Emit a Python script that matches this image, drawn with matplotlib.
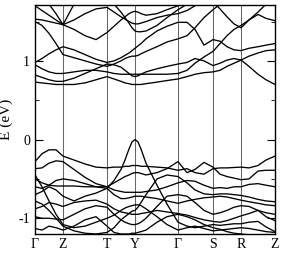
import numpy as np
import matplotlib
matplotlib.use("Agg")
import matplotlib.pyplot as plt

# k-path (arbitrary distance units) and labels
kpath_pos = [0, 28, 72, 100, 143, 178, 206, 240]
kpath_labels = ["Γ", "Z", "T", "Y", "Γ", "S", "R", "Z"]

# sampling positions along the path
k = [0, 7, 14, 21, 28,
     39, 50, 61, 72,
     79, 86, 90, 94, 97, 100,
     103, 106, 111, 122, 132, 143,
     152, 160, 169, 178,
     185, 192, 199, 206,
     214, 223, 231, 240]

# valence bands (eV)
v1 = [-0.28, -0.18, -0.13, -0.13, -0.21, -0.26, -0.31, -0.35, -0.36, -0.35, -0.35, -0.34, -0.34, -0.33, -0.33, -0.33, -0.34, -0.34, -0.35, -0.36, -0.39, -0.37, -0.42, -0.44, -0.37, -0.36, -0.36, -0.355, -0.35, -0.36, -0.33, -0.26, -0.21]
v2 = [-0.60, -0.62, -0.58, -0.52, -0.50, -0.52, -0.56, -0.60, -0.62, -0.52, -0.38, -0.26, -0.12, -0.03, 0.00, -0.03, -0.12, -0.30, -0.58, -0.82, -1.05, -1.10, -1.12, -1.10, -1.08, -1.09, -1.08, -1.07, -1.07, -1.05, -1.04, -1.11, -1.17]
v3 = [-0.37, -0.36, -0.30, -0.27, -0.28, -0.38, -0.48, -0.56, -0.60, -0.55, -0.50, -0.47, -0.45, -0.43, -0.42, -0.42, -0.43, -0.45, -0.42, -0.37, -0.28, -0.42, -0.38, -0.29, -0.35, -0.44, -0.47, -0.49, -0.51, -0.50, -0.40, -0.39, -0.39]
v4 = [-0.50, -0.55, -0.58, -0.59, -0.59, -0.59, -0.60, -0.60, -0.60, -0.64, -0.66, -0.67, -0.67, -0.67, -0.67, -0.67, -0.67, -0.66, -0.64, -0.60, -0.55, -0.52, -0.53, -0.58, -0.62, -0.61, -0.62, -0.60, -0.60, -0.57, -0.56, -0.58, -0.60]
v5 = [-0.70, -0.66, -0.60, -0.64, -0.72, -0.78, -0.72, -0.68, -0.62, -0.70, -0.75, -0.75, -0.74, -0.73, -0.72, -0.72, -0.72, -0.73, -0.75, -0.78, -0.81, -0.78, -0.76, -0.74, -0.73, -0.72, -0.73, -0.75, -0.77, -0.79, -0.81, -0.83, -0.84]
v6 = [-0.88, -0.85, -0.80, -0.82, -0.85, -0.80, -0.78, -0.77, -0.82, -0.88, -0.92, -0.93, -0.94, -0.95, -0.95, -0.95, -0.94, -0.93, -0.90, -0.92, -0.94, -0.96, -0.99, -1.02, -1.04, -1.05, -1.03, -1.00, -0.97, -0.94, -0.90, -0.98, -1.03]
v7 = [-0.98, -1.00, -1.00, -1.01, -1.02, -0.95, -0.88, -0.84, -0.86, -0.95, -1.02, -1.05, -1.07, -1.08, -1.08, -1.07, -1.05, -1.00, -0.85, -0.72, -0.70, -0.72, -0.80, -0.90, -0.95, -0.93, -0.90, -0.86, -0.84, -0.85, -0.90, -0.93, -0.95]
v8 = [-0.45, -0.60, -0.78, -0.95, -1.08, -1.12, -1.10, -1.05, -1.00, -0.96, -0.90, -0.87, -0.85, -0.84, -0.83, -0.83, -0.84, -0.88, -0.98, -1.08, -1.15, -1.12, -1.10, -1.13, -1.16, -1.15, -1.14, -1.13, -1.12, -1.13, -1.15, -1.17, -1.18]
v9 = [-1.13, -1.15, -1.10, -1.12, -1.15, -1.10, -1.02, -0.98, -1.10, -1.18, -1.20, -1.20, -1.20, -1.19, -1.19, -1.18, -1.17, -1.15, -1.05, -0.98, -0.95, -0.98, -1.02, -1.08, -1.12, -1.14, -1.17, -1.19, -1.20, -1.21, -1.22, -1.22, -1.22]
v10 = [-0.78, -0.82, -0.90, -1.00, -1.10, -1.16, -1.19, -1.20, -1.18, -1.12, -1.02, -0.98, -0.94, -0.91, -0.90, -0.86, -0.80, -0.70, -0.50, -0.45, -0.47, -0.55, -0.64, -0.69, -0.70, -0.69, -0.69, -0.70, -0.71, -0.73, -0.76, -0.78, -0.79]

# conduction bands (eV)
c1 = [0.73, 0.72, 0.71, 0.70, 0.70, 0.70, 0.72, 0.76, 0.80, 0.77, 0.74, 0.72, 0.71, 0.70, 0.70, 0.70, 0.70, 0.71, 0.73, 0.75, 0.77, 0.80, 0.83, 0.85, 0.86, 0.88, 0.93, 0.97, 1.01, 1.06, 1.10, 1.13, 1.14]
c2 = [0.82, 0.79, 0.76, 0.74, 0.74, 0.78, 0.84, 0.90, 0.96, 0.95, 0.92, 0.88, 0.84, 0.81, 0.80, 0.81, 0.83, 0.86, 0.90, 0.93, 0.96, 0.98, 1.03, 1.00, 0.94, 0.97, 1.01, 1.03, 1.01, 0.93, 0.83, 0.76, 0.70]
c3 = [0.98, 1.03, 1.09, 1.14, 1.18, 1.14, 1.08, 1.02, 0.98, 1.00, 1.04, 1.07, 1.10, 1.13, 1.16, 1.19, 1.22, 1.28, 1.38, 1.44, 1.49, 1.49, 1.40, 1.20, 1.27, 1.25, 1.18, 1.14, 1.13, 1.16, 1.18, 1.20, 1.22]
c4 = [0.95, 0.90, 0.86, 0.84, 0.84, 0.86, 0.88, 0.88, 0.86, 0.84, 0.83, 0.83, 0.83, 0.83, 0.83, 0.83, 0.83, 0.83, 0.83, 0.83, 0.84, 0.88, 0.97, 1.05, 1.12, 1.22, 1.32, 1.40, 1.45, 1.52, 1.62, 1.72, 1.80]
c5 = [1.53, 1.52, 1.50, 1.48, 1.46, 1.40, 1.32, 1.27, 1.36, 1.44, 1.52, 1.56, 1.60, 1.62, 1.63, 1.62, 1.60, 1.58, 1.60, 1.65, 1.70, 1.74, 1.78, 1.82, 1.85, 1.85, 1.85, 1.85, 1.85, 1.85, 1.85, 1.85, 1.85]
c6 = [1.50, 1.45, 1.35, 1.22, 1.08, 1.04, 1.00, 0.96, 0.93, 0.96, 1.00, 1.03, 1.05, 1.06, 1.06, 1.07, 1.09, 1.12, 1.18, 1.24, 1.28, 1.32, 1.42, 1.55, 1.65, 1.72, 1.80, 1.85, 1.85, 1.85, 1.85, 1.85, 1.85]
c7 = [1.70, 1.64, 1.58, 1.52, 1.46, 1.72, 1.85, 1.90, 1.90, 1.90, 1.90, 1.90, 1.90, 1.90, 1.90, 1.90, 1.90, 1.90, 1.90, 1.90, 1.90, 1.90, 1.90, 1.90, 1.90, 1.90, 1.90, 1.90, 1.90, 1.90, 1.90, 1.90, 1.90]
c8 = [1.85, 1.80, 1.72, 1.60, 1.46, 1.52, 1.60, 1.66, 1.68, 1.62, 1.56, 1.53, 1.50, 1.48, 1.47, 1.47, 1.48, 1.50, 1.55, 1.58, 1.60, 1.64, 1.70, 1.78, 1.85, 1.90, 1.90, 1.90, 1.90, 1.90, 1.90, 1.90, 1.90]
c9 = [1.95, 1.95, 1.95, 1.95, 1.95, 1.95, 1.90, 1.85, 1.80, 1.72, 1.62, 1.55, 1.48, 1.42, 1.38, 1.37, 1.37, 1.38, 1.45, 1.55, 1.65, 1.72, 1.80, 1.90, 1.95, 1.95, 1.95, 1.95, 1.95, 1.95, 1.95, 1.95, 1.95]
c10 = [1.95, 1.95, 1.95, 1.95, 1.95, 1.95, 1.95, 1.95, 1.95, 1.95, 1.95, 1.95, 1.95, 1.95, 1.95, 1.95, 1.95, 1.95, 1.95, 1.95, 1.95, 1.90, 1.85, 1.80, 1.75, 1.66, 1.56, 1.47, 1.42, 1.52, 1.59, 1.54, 1.51]

bands = [v1, v2, v3, v4, v5, v6, v7, v8, v9, v10,
         c1, c2, c3, c4, c5, c6, c7, c8, c9, c10]

y_ticks = [-1, 0, 1]
y_label = "E (eV)"

plt.rcParams['font.family'] = ['Liberation Serif', 'DejaVu Serif']
fig = plt.figure(figsize=(2.88, 2.56), dpi=100)
ax = fig.add_axes([35/288, 1 - 234/256, 240/288, 229/256])

for e in bands:
    ax.plot(k, e, color='black', lw=0.95)

for p in kpath_pos[1:-1]:
    ax.axvline(p, color='#666666', lw=0.75, zorder=0)

ax.set_xlim(kpath_pos[0], kpath_pos[-1])
ax.set_ylim(-1.2, 1.71)
ax.set_xticks(kpath_pos)
ax.set_xticklabels(kpath_labels, fontsize=10)
ax.set_yticks(y_ticks)
ax.set_yticklabels([str(t) for t in y_ticks], fontsize=10)
ax.set_yticks([-0.5, 0.5, 1.5], minor=True)
ax.tick_params(axis='x', length=0, pad=3)
ax.tick_params(axis='y', which='both', direction='in', right=True, left=True)
ax.tick_params(axis='y', which='major', length=6)
ax.tick_params(axis='y', which='minor', length=3)
ax.set_ylabel(y_label, fontsize=11, labelpad=4)
for s in ax.spines.values():
    s.set_linewidth(1.0)

fig.savefig("out.png", dpi=100)
